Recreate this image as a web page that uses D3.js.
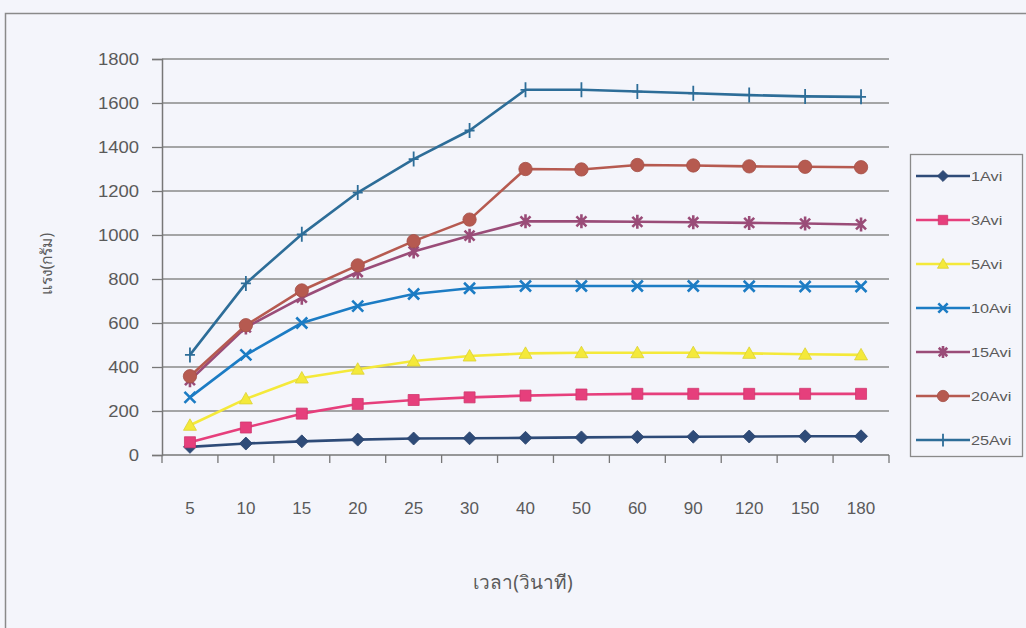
<!DOCTYPE html>
<html>
<head>
<meta charset="utf-8">
<script src="https://cdn.jsdelivr.net/npm/d3@7"></script>
<style>
  html, body { margin: 0; padding: 0; background: #f4f5fb; }
  svg { display: block; }
  text { font-family: "Liberation Sans", Arial, "Noto Sans", sans-serif; fill: #5a5a5a; }
</style>
</head>
<body>
<svg id="chart" width="1026" height="628"></svg>
<script>
// Time points (seconds) along the x axis
const categories = ["5", "10", "15", "20", "25", "30", "40", "50", "60", "90", "120", "150", "180"];

// Force (grams) for each setting
const seriesNames = ["1Avi", "3Avi", "5Avi", "10Avi", "15Avi", "20Avi", "25Avi"];
const avi1  = [37, 52, 62, 70, 75, 76, 78, 80, 82, 83, 84, 85, 85];
const avi3  = [58, 125, 188, 232, 250, 262, 270, 275, 278, 278, 278, 278, 278];
const avi5  = [135, 255, 350, 390, 427, 450, 462, 465, 465, 465, 462, 458, 455];
const avi10 = [262, 455, 600, 677, 732, 758, 768, 768, 768, 768, 767, 766, 766];
const avi15 = [340, 580, 715, 832, 925, 997, 1062, 1062, 1060, 1058, 1055, 1052, 1048];
const avi20 = [358, 590, 748, 862, 972, 1070, 1300, 1298, 1318, 1316, 1312, 1310, 1308];
const avi25 = [455, 780, 1003, 1193, 1345, 1475, 1660, 1660, 1652, 1644, 1636, 1630, 1628];

const yTicks = [0, 200, 400, 600, 800, 1000, 1200, 1400, 1600, 1800];
const xTitle = "เวลา(วินาที)";
const yTitle = "แรง(กรัม)";

const seriesValues = [avi1, avi3, avi5, avi10, avi15, avi20, avi25];
const styles = [
  { color: "#2e4b78", marker: "diamond" },
  { color: "#e63f7c", marker: "square" },
  { color: "#f4e93a", marker: "triangle" },
  { color: "#1c7cc4", marker: "x" },
  { color: "#9a4c78", marker: "asterisk" },
  { color: "#b65a50", marker: "circle" },
  { color: "#2d6d98", marker: "plus" }
];

const svg = d3.select("#chart");

// outer chart frame
svg.append("rect")
  .attr("x", 5.5).attr("y", 13.5).attr("width", 1030).attr("height", 640)
  .attr("fill", "#f4f5fb").attr("stroke", "#8a8a8a").attr("stroke-width", 1.5);

const plot = { left: 162, right: 889, top: 59, bottom: 455 };

const x = d3.scaleBand().domain(categories).range([plot.left, plot.right]).paddingInner(0).paddingOuter(0);
const y = d3.scaleLinear().domain([0, 1800]).range([plot.bottom, plot.top]);

// horizontal gridlines
svg.append("g")
  .selectAll("line")
  .data(yTicks.filter(d => d > 0))
  .join("line")
  .attr("x1", plot.left).attr("x2", plot.right)
  .attr("y1", d => y(d)).attr("y2", d => y(d))
  .attr("stroke", "#8a8a8a").attr("stroke-width", 1.4);

// y axis (labels drawn separately so they can be widened slightly)
const yAxis = svg.append("g")
  .attr("transform", `translate(${plot.left},0)`)
  .call(d3.axisLeft(y).tickValues(yTicks).tickSize(10).tickFormat(""));
yAxis.select(".domain").attr("stroke", "#777").attr("stroke-width", 1.5);
yAxis.selectAll(".tick line").attr("stroke", "#777").attr("stroke-width", 1.3);
svg.append("g")
  .selectAll("text")
  .data(yTicks)
  .join("text")
  .attr("transform", d => `translate(139,${y(d) + 6}) scale(1.12,1)`)
  .attr("text-anchor", "end")
  .attr("font-size", 16.5)
  .attr("fill", "#5f5f5f")
  .text(d3.format("d"));

// x axis with ticks at category boundaries
const xAxisG = svg.append("g").attr("transform", `translate(0,${plot.bottom})`);
xAxisG.append("line")
  .attr("x1", plot.left).attr("x2", plot.right)
  .attr("stroke", "#777").attr("stroke-width", 1.5);
xAxisG.selectAll("line.tk")
  .data(categories.concat(["end"]))
  .join("line")
  .attr("class", "tk")
  .attr("x1", (d, i) => plot.left + i * x.bandwidth())
  .attr("x2", (d, i) => plot.left + i * x.bandwidth())
  .attr("y1", 0).attr("y2", 8)
  .attr("stroke", "#777").attr("stroke-width", 1.3);
xAxisG.selectAll("text")
  .data(categories)
  .join("text")
  .attr("x", d => x(d) + x.bandwidth() / 2)
  .attr("y", 59)
  .attr("text-anchor", "middle")
  .attr("font-size", 17)
  .attr("fill", "#5f5f5f")
  .text(d => d);

// axis titles
svg.append("text")
  .attr("x", 523).attr("y", 589)
  .attr("text-anchor", "middle")
  .attr("font-size", 19)
  .style("font-family", "'Noto Sans', 'DejaVu Sans', sans-serif")
  .text(xTitle);
svg.append("text")
  .attr("transform", "translate(52,264) rotate(-90)")
  .attr("text-anchor", "middle")
  .attr("font-size", 15.5)
  .style("font-family", "'Noto Sans', 'DejaVu Sans', sans-serif")
  .text(yTitle);

// marker shapes
function markerPath(type, k) {
  k = k || 1;
  switch (type) {
    case "diamond": return `M0,${-6.5 * k}L${6.5 * k},0L0,${6.5 * k}L${-6.5 * k},0Z`;
    case "square": return `M${-5.5 * k},${-5.5 * k}H${5.5 * k}V${5.5 * k}H${-5.5 * k}Z`;
    case "triangle": return `M0,${-6.5 * k}L${6.5 * k},${5 * k}L${-6.5 * k},${5 * k}Z`;
    case "x": return `M${-5.5 * k},${-5.5 * k}L${5.5 * k},${5.5 * k}M${-5.5 * k},${5.5 * k}L${5.5 * k},${-5.5 * k}`;
    case "asterisk": return `M${-5 * k},${-5 * k}L${5 * k},${5 * k}M${-5 * k},${5 * k}L${5 * k},${-5 * k}M0,${-7 * k}L0,${7 * k}`;
    case "circle": return d3.symbol(d3.symbolCircle, 140 * k * k)();
    case "plus": return `M0,${-7.5 * k}L0,${7.5 * k}M${-5 * k},0L${5 * k},0`;
  }
}
const filledMarkers = new Set(["diamond", "square", "triangle", "circle"]);

function drawMarker(g, type, color, k) {
  const p = g.append("path").attr("d", markerPath(type, k));
  if (filledMarkers.has(type)) {
    p.attr("fill", color).attr("stroke", d3.color(color).darker(0.3)).attr("stroke-width", 0.8);
  } else {
    p.attr("fill", "none").attr("stroke", color).attr("stroke-width", type === "plus" ? 1.8 : 2.6);
  }
}

const line = d3.line()
  .x((d, i) => x(categories[i]) + x.bandwidth() / 2)
  .y(d => y(d));

seriesValues.forEach((vals, s) => {
  const st = styles[s];
  const g = svg.append("g");
  g.append("path")
    .datum(vals)
    .attr("d", line)
    .attr("fill", "none")
    .attr("stroke", st.color)
    .attr("stroke-width", 2.6)
    .attr("stroke-linejoin", "round");
  vals.forEach((v, i) => {
    const mg = g.append("g")
      .attr("transform", `translate(${x(categories[i]) + x.bandwidth() / 2},${y(v)})`);
    drawMarker(mg, st.marker, st.color, 1);
  });
});

// legend
const legend = svg.append("g");
legend.append("rect")
  .attr("x", 910.5).attr("y", 154.5).attr("width", 112).attr("height", 302)
  .attr("fill", "#f4f5fb").attr("stroke", "#8a8a8a").attr("stroke-width", 1.3);
seriesNames.forEach((name, s) => {
  const st = styles[s];
  const ly = 176 + s * 44;
  const item = legend.append("g");
  item.append("line")
    .attr("x1", 916).attr("x2", 970).attr("y1", ly).attr("y2", ly)
    .attr("stroke", st.color).attr("stroke-width", 2.4);
  drawMarker(item.append("g").attr("transform", `translate(943,${ly})`), st.marker, st.color, 0.85);
  item.append("text")
    .attr("transform", `translate(971,${ly + 4.5}) scale(1.3,1)`)
    .attr("font-size", 12.5)
    .attr("fill", "#5f5f5f")
    .text(name);
});
</script>
</body>
</html>
